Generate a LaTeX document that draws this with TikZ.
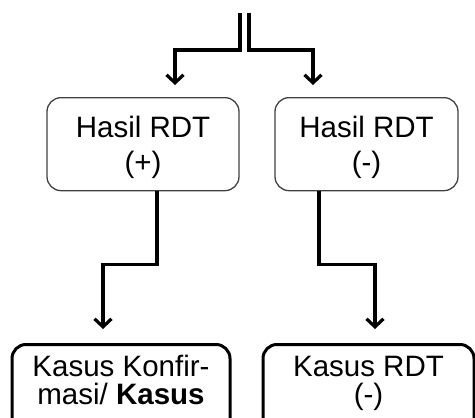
\documentclass[tikz,border=0pt]{standalone}
\usepackage{fontspec}
\setmainfont{Liberation Sans}
\usetikzlibrary{arrows.meta,calc}
\begin{document}
\begin{tikzpicture}[x=1pt,y=-1pt,
  topbox/.style={draw=black!75, line width=1.3pt, rounded corners=14pt,
    anchor=north, inner xsep=0pt, inner ysep=0pt, align=center,
    font=\fontsize{29.5}{35}\selectfont},
  botbox/.style={draw=black, line width=3pt, rounded corners=14pt,
    anchor=north, inner xsep=0pt, inner ysep=0pt, align=center,
    font=\fontsize{29.5}{28}\selectfont},
  arr/.style={draw=black, line width=3.2pt,
    -{Straight Barb[length=8pt,width=17pt,line width=3.2pt]}}]
\useasboundingbox (0,0) rectangle (475,418);
\clip (0,0) rectangle (475,418);

\node[topbox, minimum width=192pt] (h1) at (143,97)
  {\rule{0pt}{40pt}Hasil RDT\\(+)\rule[-18pt]{0pt}{0pt}};
\node[topbox, minimum width=183pt] (h2) at (366.5,97)
  {\rule{0pt}{40pt}Hasil RDT\\(-)\rule[-18pt]{0pt}{0pt}};

\node[botbox, minimum width=218pt] (k1) at (121,343)
  {\rule{0pt}{32pt}Kasus Konfir-\\masi/ \textbf{Kasus}\rule[-45pt]{0pt}{0pt}};
\node[botbox, minimum width=211pt] (k2) at (368.5,343)
  {\rule{0pt}{32pt}Kasus RDT\\(-)\rule[-45pt]{0pt}{0pt}};

\coordinate (s1) at (240,13);
\coordinate (s2) at (249,13);

\draw[arr, shorten >=12pt] (s1) -- ++(0,37) -| ($(h1.north)+(32,0)$);
\draw[arr, shorten >=12pt] (s2) -- ++(0,37) -| ($(h2.north)+(-53.5,0)$);

\draw[arr, shorten >=14pt] ($(h1.south)+(14,0)$) -- ++(0,73) -| ($(k1.north)+(-18,0)$);
\draw[arr, shorten >=14pt] ($(h2.south)+(-47.5,0)$) -- ++(0,73) -| ($(k2.north)+(6.5,0)$);
\end{tikzpicture}
\end{document}
